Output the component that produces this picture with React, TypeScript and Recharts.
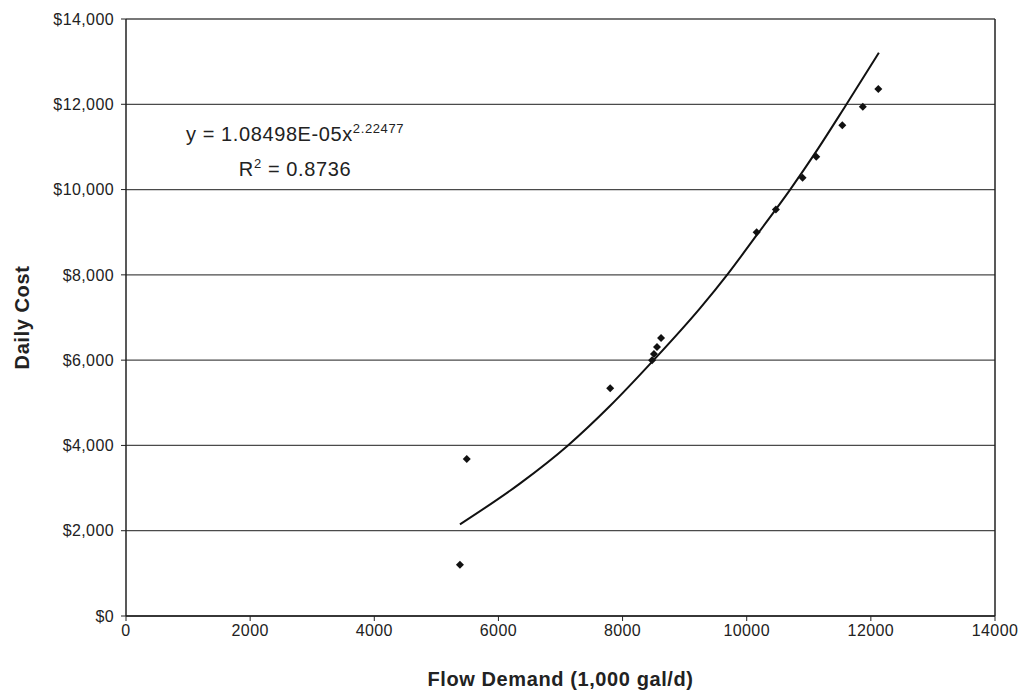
import React from "react";
import {
  ScatterChart,
  Scatter,
  CartesianGrid,
  XAxis,
  YAxis,
  ReferenceLine,
} from "recharts";

// observed points (flow demand, daily cost)
const flowDemand = [5380, 5490, 7800, 8475, 8505, 8555, 8620, 10160, 10470, 10900, 11120, 11540, 11870, 12120];
const dailyCost = [1200, 3680, 5340, 6000, 6145, 6310, 6520, 9000, 9530, 10280, 10770, 11510, 11940, 12360];

// power trendline
const trendX = [5380, 6350, 7120, 7800, 8500, 9250, 9700, 10160, 10700, 11150, 11590, 12130];
const trendY = [2150, 3110, 4000, 4930, 6000, 7220, 8030, 8930, 10000, 10960, 11960, 13210];

const xTicks = [0, 2000, 4000, 6000, 8000, 10000, 12000, 14000];
const yTicks = [0, 2000, 4000, 6000, 8000, 10000, 12000, 14000];

const points = flowDemand.map((x, i) => ({ x, y: dailyCost[i] }));
const trend = trendX.map((x, i) => ({ x, y: trendY[i] }));

const font = "'Liberation Sans', Arial, sans-serif";

const Diamond = (props: any) => {
  const { cx, cy } = props;
  const r = 4;
  return (
    <path
      d={`M${cx},${cy - r}L${cx + r},${cy}L${cx},${cy + r}L${cx - r},${cy}Z`}
      fill="#111"
    />
  );
};

const money = (v: number) => "$" + v.toLocaleString("en-US");

export default function App() {
  return (
    <div style={{ position: "relative", width: 1025, height: 692, background: "#fff" }}>
      <style>{`body{margin:0;}`}</style>
      <ScatterChart
        width={1025}
        height={692}
        margin={{ top: 19, right: 30, left: 0, bottom: 0 }}
      >
        <CartesianGrid vertical={false} stroke="#4a4a4a" strokeWidth={1.3} />
        <XAxis
          type="number"
          dataKey="x"
          domain={[0, 14000]}
          ticks={xTicks}
          height={76}
          tickSize={5}
          tickMargin={4}
          stroke="#222"
          axisLine={{ stroke: "#222", strokeWidth: 1.5 }}
          tick={{ fill: "#222", fontSize: 16, fontFamily: font, letterSpacing: 0.4 }}
          label={(p: any) => {
            const vb = p.viewBox;
            return (
              <text
                x={vb.x + vb.width / 2}
                y={686}
                textAnchor="middle"
                fontFamily={font}
                fontWeight="bold"
                fontSize={20}
                letterSpacing={0.6}
                fill="#222"
              >
                Flow Demand (1,000 gal/d)
              </text>
            );
          }}
        />
        <YAxis
          type="number"
          dataKey="y"
          domain={[0, 14000]}
          ticks={yTicks}
          width={126}
          tickSize={5}
          tickMargin={7}
          stroke="#222"
          axisLine={{ stroke: "#222", strokeWidth: 1.5 }}
          tickFormatter={money}
          tick={{ fill: "#222", fontSize: 16, fontFamily: font, letterSpacing: 0.4 }}
          label={(p: any) => {
            const vb = p.viewBox;
            const cx = 29;
            const cy = vb.y + vb.height / 2;
            return (
              <text
                x={cx}
                y={cy}
                transform={`rotate(-90 ${cx} ${cy})`}
                textAnchor="middle"
                fontFamily={font}
                fontWeight="bold"
                fontSize={20}
                letterSpacing={0.6}
                fill="#222"
              >
                Daily Cost
              </text>
            );
          }}
        />
        <ReferenceLine x={14000} stroke="#222" strokeWidth={1.5} />
        <Scatter
          data={trend}
          line={{ stroke: "#111", strokeWidth: 2 }}
          lineJointType="monotoneX"
          shape={() => <g />}
          isAnimationActive={false}
        />
        <Scatter data={points} shape={Diamond} isAnimationActive={false} />
      </ScatterChart>
      <div
        style={{
          position: "absolute",
          left: 160,
          top: 114,
          width: 270,
          textAlign: "center",
          fontFamily: font,
          fontSize: 20,
          letterSpacing: 0.6,
          lineHeight: "29px",
          color: "#222",
        }}
      >
        <div>
          y = 1.08498E-05x<sup style={{ fontSize: 13 }}>2.22477</sup>
        </div>
        <div>
          R<sup style={{ fontSize: 13 }}>2</sup> = 0.8736
        </div>
      </div>
    </div>
  );
}
